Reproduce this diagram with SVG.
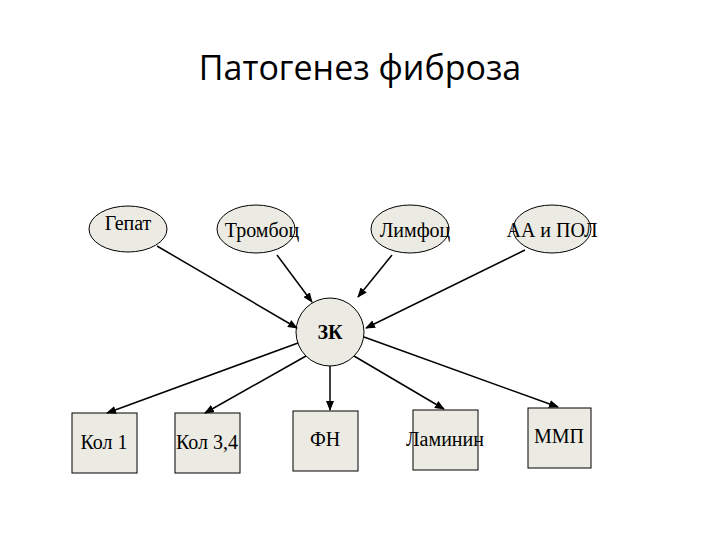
<svg xmlns="http://www.w3.org/2000/svg" width="720" height="540" viewBox="0 0 720 540">
<defs><marker id="ah" markerWidth="10" markerHeight="8" refX="9" refY="4" orient="auto" markerUnits="userSpaceOnUse"><path d="M0,0 L10,4 L0,8 Z" fill="#000"/></marker></defs>
<style>
.n{fill:#ecebe3;stroke:#000;stroke-width:1}
.t{font-family:"Liberation Serif",serif;font-size:20px;text-anchor:middle}
.c line{stroke:#000;stroke-width:1.5;marker-end:url(#ah)}
</style>
<rect width="720" height="540" fill="#fff"/>
<text x="360" y="80" font-family="Open Sans, sans-serif" font-size="34" text-anchor="middle">Патогенез фиброза</text>
<g id="gepat"><ellipse class="n" cx="128" cy="229" rx="39" ry="23"/><text class="t" x="128" y="230">Гепат</text></g>
<g id="tromboc"><ellipse class="n" cx="256" cy="229" rx="39" ry="24"/><text class="t" x="262" y="237">Тромбоц</text></g>
<g id="limfoc"><ellipse class="n" cx="410" cy="229" rx="39" ry="24"/><text class="t" x="415" y="237">Лимфоц</text></g>
<g id="aapol"><ellipse class="n" cx="552" cy="229" rx="39" ry="24"/><text class="t" x="552" y="237">АА и ПОЛ</text></g>
<g id="zk"><circle class="n" cx="330" cy="332" r="34"/><text class="t" x="330" y="339" font-weight="bold">ЗК</text></g>
<g id="kol1"><rect class="n" x="72" y="413" width="65" height="60"/><text class="t" x="104" y="449">Кол 1</text></g>
<g id="kol34"><rect class="n" x="175" y="413" width="65" height="60"/><text class="t" x="207" y="449">Кол 3,4</text></g>
<g id="fn"><rect class="n" x="293" y="411" width="65" height="60"/><text class="t" x="325" y="446">ФН</text></g>
<g id="laminin"><rect class="n" x="413" y="410" width="65" height="60"/><text class="t" x="445" y="446">Ламинин</text></g>
<g id="mmp"><rect class="n" x="528" y="408" width="63" height="60"/><text class="t" x="559" y="443">ММП</text></g>
<g class="c" id="connectors">
<line x1="157" y1="246" x2="297" y2="328"/>
<line x1="277" y1="255" x2="312" y2="302"/>
<line x1="392" y1="255" x2="358" y2="297"/>
<line x1="525" y1="250" x2="366" y2="328"/>
<line x1="298" y1="343" x2="107" y2="413"/>
<line x1="306" y1="356" x2="205" y2="413"/>
<line x1="330" y1="366" x2="330" y2="410"/>
<line x1="354" y1="356" x2="444" y2="409"/>
<line x1="364" y1="337" x2="558" y2="407"/>
</g>
</svg>
